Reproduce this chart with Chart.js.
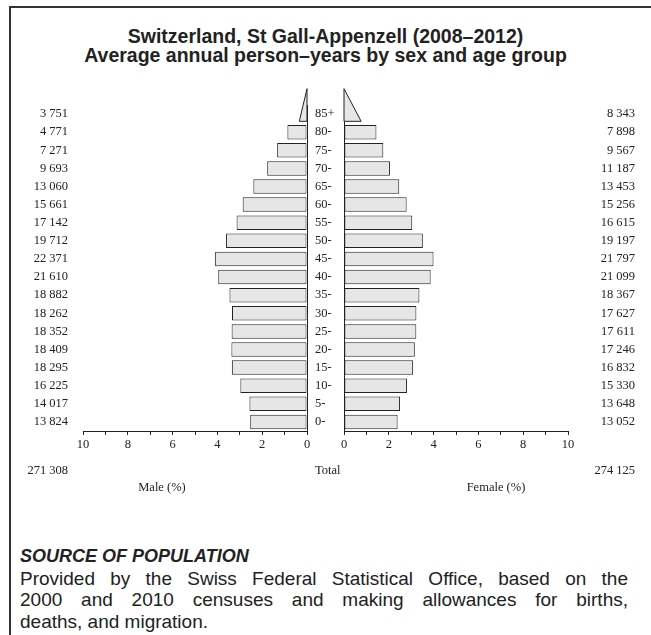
<!DOCTYPE html>
<html>
<head>
<meta charset="utf-8">
<script src="https://cdn.jsdelivr.net/npm/chart.js@4.4.0/dist/chart.umd.min.js"></script>
<style>
  body { margin: 0; background: #fff; }
  #page { position: relative; width: 651px; height: 635px; overflow: hidden; background: #fff; }
  #frame { position: absolute; left: 9px; top: 6px; right: -5px; bottom: -5px;
           border-left: 2px solid #333; border-top: 2px solid #333; }
  canvas { position: absolute; left: 0; top: 2px; }
  .title { position: absolute; left: 0; width: 651px; text-align: center;
           font: bold 19.5px "Liberation Sans", Arial, sans-serif; color: #222; line-height: 20px; }
  .serif { position: absolute; font: 12.5px "Liberation Serif", "Times New Roman", serif;
           color: #222; line-height: 14px; white-space: nowrap; }
  #source { position: absolute; left: 20px; width: 608px; top: 546px; color: #222;
            font: 19px "Liberation Sans", Arial, sans-serif; line-height: 21.5px; }
  #source .head { font-weight: bold; font-style: italic; font-size: 18px; }
  #source .full { text-align: justify; text-align-last: justify; }
</style>
</head>
<body>
<div id="page">
  <div id="frame"></div>
  <div class="title" style="top:26px">Switzerland, St Gall-Appenzell (2008–2012)</div>
  <div class="title" style="top:45px">Average annual person–years by sex and age group</div>

  <canvas id="male" width="651" height="460"></canvas>
  <canvas id="female" width="651" height="460"></canvas>

  <div class="serif" style="top:463px; right:583px; text-align:right">271 308</div>
  <div class="serif" style="top:463px; left:315px">Total</div>
  <div class="serif" style="top:463px; right:16px; text-align:right">274 125</div>
  <div class="serif" style="top:480px; left:112px; width:100px; text-align:center">Male (%)</div>
  <div class="serif" style="top:480px; left:446px; width:100px; text-align:center">Female (%)</div>

  <div id="source">
    <div class="head">SOURCE OF POPULATION</div>
    <div class="full">Provided by the Swiss Federal Statistical Office, based on the</div>
    <div class="full">2000 and 2010 censuses and making allowances for births,</div>
    <div>deaths, and migration.</div>
  </div>
</div>

<script>
// Age groups, youngest first (drawn bottom to top)
const ageGroups = ['0-', '5-', '10-', '15-', '20-', '25-', '30-', '35-', '40-',
                   '45-', '50-', '55-', '60-', '65-', '70-', '75-', '80-', '85+'];

// Average annual person-years
const maleCounts   = [13824, 14017, 16225, 18295, 18409, 18352, 18262, 18882, 21610,
                      22371, 19712, 17142, 15661, 13060, 9693, 7271, 4771, 3751];
const femaleCounts = [13052, 13648, 15330, 16832, 17246, 17611, 17627, 18367, 21099,
                      21797, 19197, 16615, 15256, 13453, 11187, 9567, 7898, 8343];

const axisTicks = [0, 2, 4, 6, 8, 10];

const INK = '#222';
const FILL = '#e6e6e6';
const SERIF = "'Liberation Serif', 'Times New Roman', serif";
const BAR_PCT = 0.8;

const grandTotal = maleCounts.reduce((a, b) => a + b, 0) + femaleCounts.reduce((a, b) => a + b, 0);
const pct = n => n / grandTotal * 100;
const fmt = n => String(n).replace(/\B(?=(\d{3})+(?!\d))/g, ' ');
const lastIdx = ageGroups.length - 1;

// bars for every group except the open 85+ one, which gets a triangle
const barData = counts => counts.map((c, i) => i === lastIdx ? null : pct(c));

// triangle for 85+: right angle at zero, base at half the group's share, apex one row higher
const openGroupTriangle = {
    id: 'openGroupTriangle',
    afterDatasetsDraw(chart, args, opts) {
        const xs = chart.scales.x, ys = chart.scales.y;
        const row = Math.abs(ys.getPixelForValue(0) - ys.getPixelForValue(1));
        const yc = ys.getPixelForValue(lastIdx);
        const bottom = yc + row * BAR_PCT / 2;
        const apex = yc - row * BAR_PCT / 2 - row;
        const x0 = xs.getPixelForValue(0);
        const x1 = xs.getPixelForValue(pct(opts.count) / 2);
        const ctx = chart.ctx;
        ctx.save();
        ctx.beginPath();
        ctx.moveTo(x0, apex);
        ctx.lineTo(x0, bottom);
        ctx.lineTo(x1, bottom);
        ctx.closePath();
        ctx.fillStyle = FILL;
        ctx.fill();
        ctx.lineWidth = 1;
        ctx.strokeStyle = INK;
        ctx.stroke();
        ctx.restore();
    }
};

function xAxis(reverse) {
    return {
        type: 'linear',
        min: 0,
        max: 10,
        reverse: reverse,
        position: 'bottom',
        afterFit: s => { s.height = 30; },
        ticks: {
            stepSize: 1,
            autoSkip: false,
            maxRotation: 0,
            padding: 2,
            color: INK,
            font: { family: SERIF, size: 12.5 },
            callback: v => axisTicks.includes(v) ? String(v) : ''
        },
        grid: {
            drawOnChartArea: true,
            drawTicks: true,
            tickLength: 4,
            tickColor: INK,
            color: c => (c.tick && c.tick.value === 0) ? INK : 'rgba(0,0,0,0)'
        },
        border: { display: true, color: INK, width: 1 }
    };
}

function countAxis(position, labels, width) {
    return {
        type: 'category',
        labels: labels,
        reverse: true,
        position: position,
        offset: true,
        afterFit: s => { s.width = width; },
        ticks: {
            autoSkip: false,
            padding: position === 'left' ? 15 : 0,
            crossAlign: position === 'left' ? 'near' : 'far',
            color: INK,
            font: { family: SERIF, size: 12.5 }
        },
        grid: { display: false, drawTicks: false },
        border: { display: false }
    };
}

function dataset(counts) {
    return {
        data: barData(counts),
        backgroundColor: FILL,
        borderColor: INK,
        borderWidth: 1,
        borderSkipped: false,
        barPercentage: BAR_PCT,
        categoryPercentage: 1
    };
}

const common = {
    indexAxis: 'y',
    responsive: false,
    animation: false,
    events: [],
    plugins: { legend: { display: false }, tooltip: { enabled: false } }
};

// Male side: counts on the left, age labels in the gap to the right
new Chart(document.getElementById('male'), {
    type: 'bar',
    data: { labels: ageGroups, datasets: [dataset(maleCounts)] },
    options: Object.assign({}, common, {
        layout: { padding: { top: 103, bottom: 1, left: 0, right: 0 } },
        scales: {
            x: xAxis(true),
            y: countAxis('left', maleCounts.map(fmt), 83),
            ages: {
                type: 'category',
                labels: ageGroups,
                reverse: true,
                position: 'right',
                offset: true,
                afterFit: s => { s.width = 344; },
                ticks: { autoSkip: false, padding: 8, crossAlign: 'near', color: INK,
                         font: { family: SERIF, size: 12.5 } },
                grid: { display: false, drawTicks: false },
                border: { display: false }
            }
        },
        plugins: Object.assign({}, common.plugins, { openGroupTriangle: { count: maleCounts[lastIdx] } })
    }),
    plugins: [openGroupTriangle]
});

// Female side: counts right-aligned on the far right
new Chart(document.getElementById('female'), {
    type: 'bar',
    data: { labels: ageGroups, datasets: [dataset(femaleCounts)] },
    options: Object.assign({}, common, {
        layout: { padding: { top: 103, bottom: 1, left: 344, right: 16 } },
        scales: {
            x: xAxis(false),
            y: countAxis('right', femaleCounts.map(fmt), 67)
        },
        plugins: Object.assign({}, common.plugins, { openGroupTriangle: { count: femaleCounts[lastIdx] } })
    }),
    plugins: [openGroupTriangle]
});
</script>
</body>
</html>
